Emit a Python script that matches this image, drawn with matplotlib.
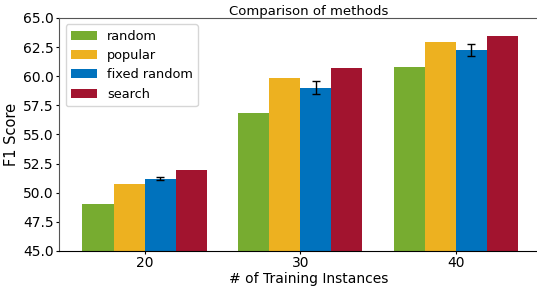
import matplotlib.pyplot as plt
import numpy as np

instances = [20, 30, 40]
methods = ['random', 'popular', 'fixed random', 'search']
colors = ['#77AC30', '#EDB120', '#0072BD', '#A2142F']

random_f1 = [49.0, 56.85, 60.8]
popular_f1 = [50.75, 59.85, 62.95]
fixed_f1 = [51.2, 59.0, 62.25]
fixed_err = [0.1, 0.55, 0.55]
search_f1 = [51.9, 60.7, 63.45]

fig = plt.figure(figsize=(5.37, 2.89), dpi=100)
ax = fig.add_axes([0.11, 0.132, 0.93, 0.806])

x = np.array(instances)
w = 2
ax.bar(x - 3, random_f1, w, color=colors[0], label=methods[0])
ax.bar(x - 1, popular_f1, w, color=colors[1], label=methods[1])
ax.bar(x + 1, fixed_f1, w, color=colors[2], label=methods[2],
       yerr=fixed_err, capsize=3, error_kw={'elinewidth': 1, 'ecolor': 'black'})
ax.bar(x + 3, search_f1, w, color=colors[3], label=methods[3])

ax.set_ylim(45, 65)
ax.set_yticks(np.arange(45, 65.1, 2.5))
ax.set_xlim(14.5, 46.6)
ax.set_xticks(instances)
ax.tick_params(labelsize=10, length=2, pad=2)
ax.spines['right'].set_visible(False)
ax.spines['left'].set_color('#555555')
ax.spines['top'].set_color('#555555')
ax.set_xlabel('# of Training Instances', fontsize=10, labelpad=1)
ax.set_ylabel('F1 Score', fontsize=10.5, labelpad=3)
ax.set_title('Comparison of methods', fontsize=9.5, pad=2)
ax.legend(loc='upper left', fontsize=9.3)

fig.savefig('out.png')
